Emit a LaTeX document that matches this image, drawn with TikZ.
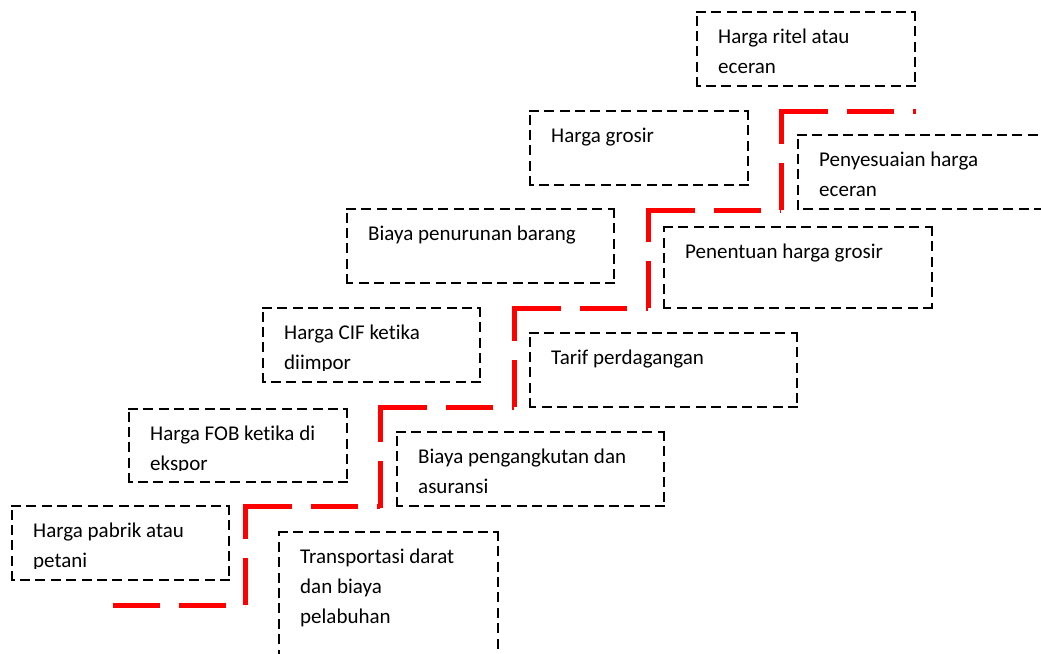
\documentclass[tikz,border=0pt]{standalone}
\usepackage{fontspec}
\setmainfont{Carlito}[Ligatures=NoCommon]
\usetikzlibrary{calc}
\tikzset{
  boxline/.style={black, line width=2.3pt, line cap=rect, dash pattern=on 7.6pt off 7.8pt},
  redline/.style={red, line width=5pt, line cap=butt, dash pattern=on 47pt off 19pt},
  txt/.style={inner sep=0pt, font=\fontsize{21}{30}\selectfont}
}
\newcommand\tbox[6]{%
  \coordinate (#1-nw) at (#2,#3);
  \coordinate (#1-ne) at (#4,#3);
  \coordinate (#1-se) at (#4,#5);
  \coordinate (#1-sw) at (#2,#5);
  \draw[boxline] (#1-nw) -- (#1-ne);
  \draw[boxline] (#1-ne) -- (#1-se);
  \draw[boxline] (#1-se) -- (#1-sw);
  \draw[boxline] (#1-sw) -- (#1-nw);
  \begin{scope}
    \clip (#2,#3) rectangle (#4,#5-12);
    \foreach \t [count=\i] in {#6}
      \node[txt, anchor=base west] (#1-\i) at (#2+21, #3+1+30*\i) {\t};
  \end{scope}%
}
\begin{document}
\begin{tikzpicture}[x=1pt,y=-1pt]
\useasboundingbox (0,0) rectangle (1041,653);
\clip (0,0) rectangle (1041,653);
\fill[white] (0,0) rectangle (1041,653);
% price boxes
\tbox{pabrik}{12}{506}{229}{580}{Harga pabrik atau, petani}
\tbox{fob}{129}{409}{347}{482}{Harga FOB ketika di, ekspor}
\tbox{cif}{263}{308}{480}{382}{Harga CIF ketika, diimpor}
\tbox{turun}{347}{209}{614}{283}{Biaya penurunan barang}
\tbox{grosir}{530}{111}{748}{185}{Harga grosir}
\tbox{ritel}{697}{12}{915}{86}{Harga ritel atau, eceran}
% cost boxes
\tbox{transport}{279}{532}{498}{720}{Transportasi darat, dan biaya, pelabuhan}
\tbox{angkut}{397}{432}{664}{506}{Biaya pengangkutan dan, asuransi}
\tbox{tarif}{530}{333}{797}{407}{Tarif perdagangan}
\tbox{tentu}{664}{227}{932}{308}{Penentuan harga grosir}
\tbox{sesuai}{798}{135}{1120}{209}{Penyesuaian harga, eceran}
% red staircase
\coordinate (r0) at (113,605);
\coordinate (r1) at (245,605);
\coordinate (r2) at (245,506);
\coordinate (r3) at (380,506);
\coordinate (r4) at (380,407);
\coordinate (r5) at (514,407);
\coordinate (r6) at (514,308);
\coordinate (r7) at (648,308);
\coordinate (r8) at (648,210);
\coordinate (r9) at (781,210);
\coordinate (r10) at (781,111);
\coordinate (r11) at (915,111);
\draw[redline] (r0) -- (r1);
\draw[redline] (r1) -- ($(r2)+(0,-2.5)$);
\draw[redline] (r2) -- (r3);
\draw[redline] ($(r3)+(0,2)$) -- ($(r4)+(0,-2.5)$);
\draw[redline] (r4) -- (r5);
\draw[redline] (r5) -- ($(r6)+(0,-2.5)$);
\draw[redline] (r6) -- (r7);
\draw[redline] (r7) -- ($(r8)+(0,-2.5)$);
\draw[redline] (r8) -- (r9);
\draw[redline] (r9) -- ($(r10)+(0,-2.5)$);
\draw[redline] (r10) -- (r11);
\draw[red, line width=2pt] ($(r11)+(0,2.5)$) -- ($(r11)+(0,-2.5)$);
\end{tikzpicture}
\end{document}
